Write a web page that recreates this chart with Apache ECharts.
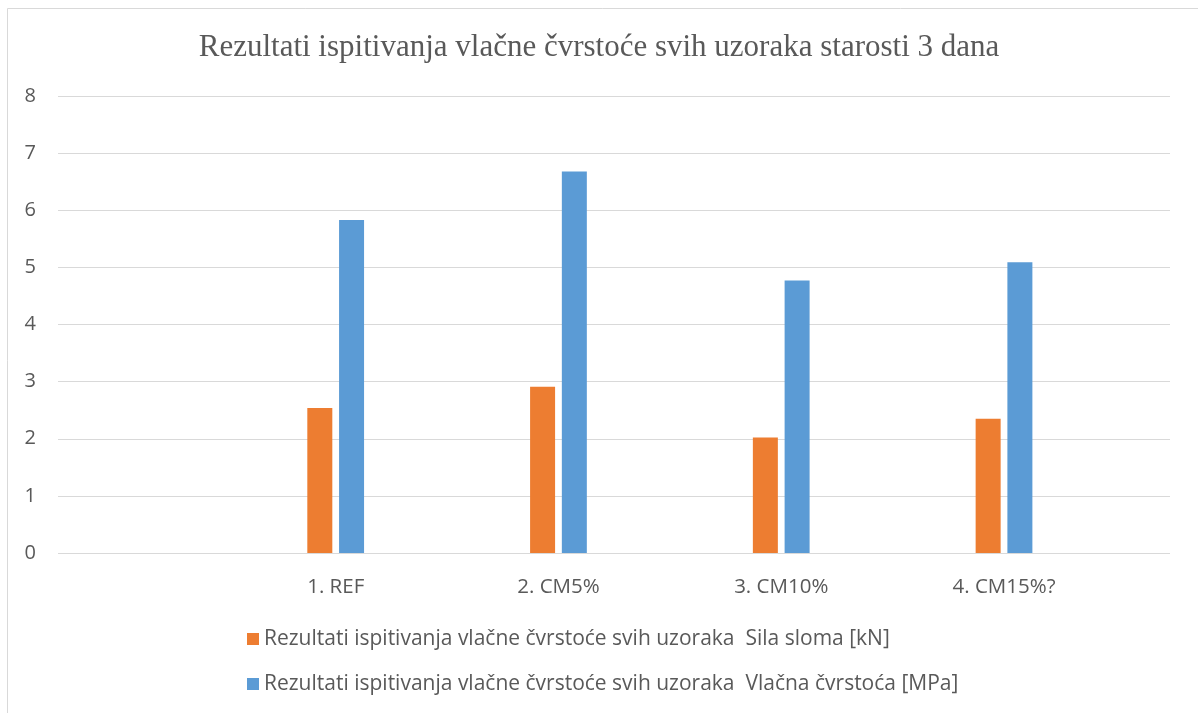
<!DOCTYPE html>
<html>
<head>
<meta charset="utf-8">
<script src="https://cdn.jsdelivr.net/npm/echarts@6/dist/echarts.min.js"></script>
<style>html,body{margin:0;padding:0;background:#fff;}#c{width:1198px;height:713px;}</style>
</head>
<body>
<div id="c"></div>
<script>
const titleText = 'Rezultati ispitivanja vlačne čvrstoće svih uzoraka starosti 3 dana';
const categories = ['1. REF', '2. CM5%', '3. CM10%', '4. CM15%?'];
const seriesNames = [
  'Rezultati ispitivanja vlačne čvrstoće svih uzoraka  Sila sloma [kN]',
  'Rezultati ispitivanja vlačne čvrstoće svih uzoraka  Vlačna čvrstoća [MPa]'
];
const silaSloma = [2.54, 2.91, 2.02, 2.35];
const vlacnaCvrstoca = [5.83, 6.68, 4.77, 5.09];
const yTicks = [0, 1, 2, 3, 4, 5, 6, 7, 8];

const txt = '#595959';
const sans = '"Open Sans", "Noto Sans", sans-serif';
const chart = echarts.init(document.getElementById('c'), null, {renderer: 'canvas'});
chart.setOption({
  backgroundColor: '#fff',
  animation: false,
  title: {
    text: titleText, left: 'center', top: 27,
    textStyle: {fontFamily: '"Liberation Serif", "DejaVu Serif", serif', fontWeight: 'normal', fontSize: 31, color: txt}
  },
  graphic: [{
    type: 'polyline', silent: true,
    shape: {points: [[7.5, 713], [7.5, 8.5], [1198, 8.5]]},
    style: {stroke: '#d9d9d9', lineWidth: 1, fill: null}
  }],
  legend: {
    orient: 'vertical', left: 242, top: 622, itemWidth: 12, itemHeight: 12, itemGap: 21,
    icon: 'rect',
    textStyle: {fontFamily: sans, fontSize: 21, lineHeight: 24, color: txt},
    data: seriesNames
  },
  grid: [
    {left: 58, right: 28, top: 96, bottom: 160},
    {left: 224.3, right: 82.6, top: 96, bottom: 160}
  ],
  xAxis: [
    {type: 'category', gridIndex: 0, data: [''], show: false},
    {type: 'category', gridIndex: 1, data: categories,
     axisLine: {show: false}, axisTick: {show: false},
     axisLabel: {margin: 24, fontFamily: sans, fontSize: 20.5, color: txt}}
  ],
  yAxis: [
    {type: 'value', gridIndex: 0, min: yTicks[0], max: yTicks[yTicks.length - 1], interval: 1,
     axisLine: {show: false}, axisTick: {show: false},
     axisLabel: {margin: 22, fontFamily: sans, fontSize: 20, color: txt},
     splitLine: {lineStyle: {color: '#d9d9d9', width: 1}}},
    {type: 'value', gridIndex: 1, min: yTicks[0], max: yTicks[yTicks.length - 1], interval: 1, show: false,
     splitLine: {show: false}}
  ],
  series: [
    {name: seriesNames[0], type: 'bar', xAxisIndex: 1, yAxisIndex: 1, data: silaSloma,
     barWidth: 25, barGap: '27%', itemStyle: {color: '#ED7D31'}},
    {name: seriesNames[1], type: 'bar', xAxisIndex: 1, yAxisIndex: 1, data: vlacnaCvrstoca,
     barWidth: 25, barGap: '27%', itemStyle: {color: '#5B9BD5'}}
  ]
});
</script>
</body>
</html>
